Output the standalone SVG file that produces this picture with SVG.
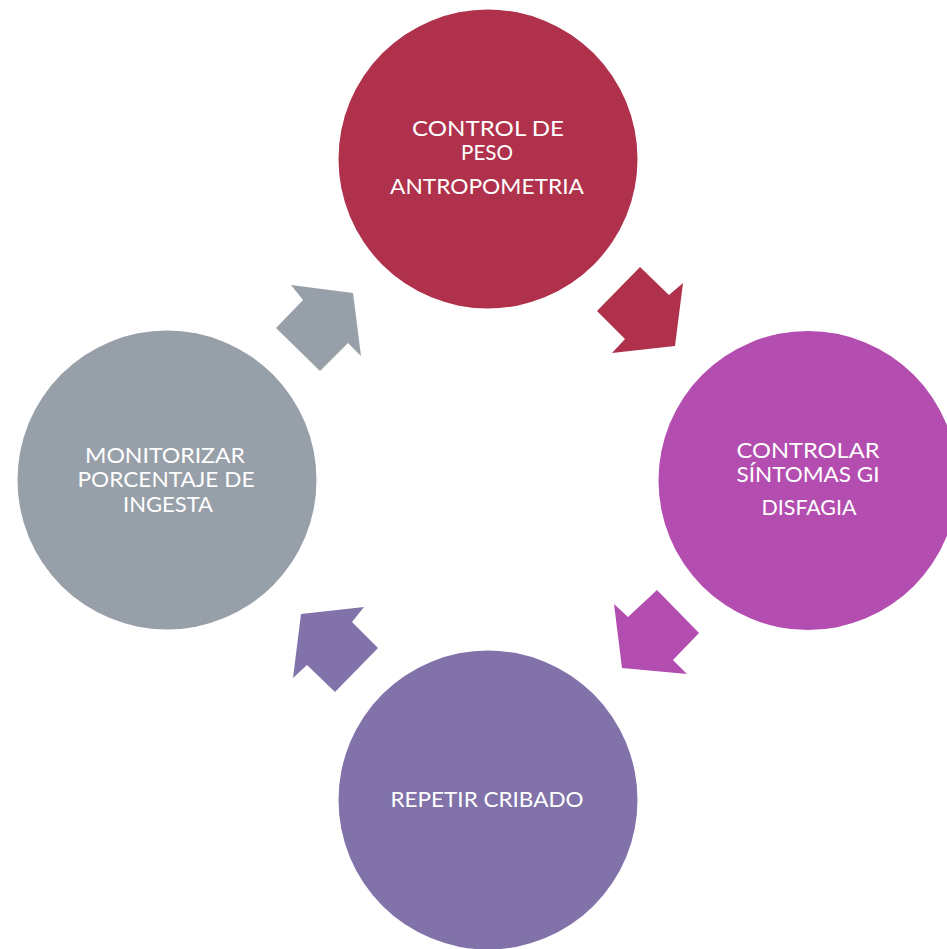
<svg xmlns="http://www.w3.org/2000/svg" width="947" height="949" viewBox="0 0 947 949">
<style>
.t{font-family:Lato,"Liberation Sans",sans-serif;font-size:21px;fill:#ffffff;text-anchor:middle}
</style>
<rect width="947" height="949" fill="#ffffff"/>
<g id="connectors">
<polygon fill="#B0314B" points="640,267 669,295 683,283 675,346 612,353 625,339 597,311"/>
<polygon fill="#B34EB0" points="657,590 699,633 673,660 687,674 622,668 614,604 628,617"/>
<polygon fill="#8173A9" points="301,614 364,607 352,622 378,648 335,692 307,665 293,678"/>
<polygon fill="#97A0A9" points="291,285 353,293 361,356 348,343 320,371 276,328 303,300"/>
</g>
<g id="node-top">
<circle cx="488" cy="159" r="149.5" fill="#B0314B"/>
<text class="t" x="488" y="136" textLength="152" lengthAdjust="spacingAndGlyphs">CONTROL DE</text>
<text class="t" x="487" y="160" textLength="52" lengthAdjust="spacingAndGlyphs">PESO</text>
<text class="t" x="487" y="194" textLength="194" lengthAdjust="spacingAndGlyphs">ANTROPOMETRIA</text>
</g>
<g id="node-right">
<circle cx="808" cy="480.5" r="149.5" fill="#B34EB0"/>
<text class="t" x="808" y="458" textLength="143" lengthAdjust="spacingAndGlyphs">CONTROLAR</text>
<text class="t" x="808" y="482" textLength="143" lengthAdjust="spacingAndGlyphs">SÍNTOMAS GI</text>
<text class="t" x="809" y="515" textLength="95" lengthAdjust="spacingAndGlyphs">DISFAGIA</text>
</g>
<g id="node-bottom">
<circle cx="488" cy="800" r="149.5" fill="#8173A9"/>
<text class="t" x="487" y="807" textLength="193" lengthAdjust="spacingAndGlyphs">REPETIR CRIBADO</text>
</g>
<g id="node-left">
<circle cx="167" cy="480" r="149.5" fill="#97A0A9"/>
<text class="t" x="165" y="463" textLength="160" lengthAdjust="spacingAndGlyphs">MONITORIZAR</text>
<text class="t" x="166" y="487" textLength="177" lengthAdjust="spacingAndGlyphs">PORCENTAJE DE</text>
<text class="t" x="168" y="512" textLength="90" lengthAdjust="spacingAndGlyphs">INGESTA</text>
</g>
</svg>
